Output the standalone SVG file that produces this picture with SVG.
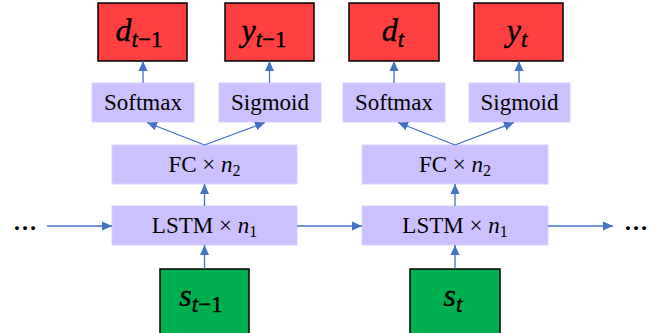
<svg xmlns="http://www.w3.org/2000/svg" width="663" height="333" viewBox="0 0 663 333">
<style>
.out{fill:#FF4040;stroke:#000;stroke-width:1.5}
.lay{fill:#CDC0FF;stroke:#D9D0FF;stroke-width:1}
.inp{fill:#00B050;stroke:#000;stroke-width:1.5}
.lbl{font-family:"Liberation Serif",serif;font-size:23px;fill:#000;text-anchor:middle}
.math{font-family:"Liberation Serif",serif;font-style:italic;fill:#000;stroke:#000;stroke-width:0.4;text-anchor:middle}
.up{font-style:normal}
.dots{font-family:"Liberation Serif",serif;font-size:24px;font-weight:bold;fill:#000;text-anchor:middle}
.conn line{stroke:#4472C4;stroke-width:1.3;marker-end:url(#ah)}
</style>
<defs>
<marker id="ah" markerUnits="userSpaceOnUse" markerWidth="10" markerHeight="10" refX="10" refY="5" orient="auto">
<path d="M0,0.5 L10,5 L0,9.5 z" fill="#4472C4"/>
</marker>
</defs>
<rect width="663" height="333" fill="#fff"/>

<g id="d_tm1"><rect class="out" x="98" y="3" width="89" height="58"/><text class="math" x="139" y="41" font-size="32">d<tspan font-size="23" dy="6">t</tspan><tspan class="up" font-size="23">−1</tspan></text></g>
<g id="y_tm1"><rect class="out" x="225" y="3" width="89" height="58"/><text class="math" x="264" y="41" font-size="32">y<tspan font-size="23" dy="6">t</tspan><tspan class="up" font-size="23">−1</tspan></text></g>
<g id="softmax1"><rect class="lay" x="92" y="83" width="102" height="39"/><text class="lbl" x="143" y="110">Softmax</text></g>
<g id="sigmoid1"><rect class="lay" x="219" y="83" width="102" height="39"/><text class="lbl" x="270" y="110">Sigmoid</text></g>
<g id="fc1"><rect class="lay" x="112" y="145" width="185" height="39"/><text class="lbl" x="204.5" y="172">FC × <tspan font-style="italic">n</tspan><tspan font-size="16" dy="4">2</tspan></text></g>
<g id="lstm1"><rect class="lay" x="112" y="206" width="185" height="39"/><text class="lbl" x="204.5" y="233">LSTM × <tspan font-style="italic">n</tspan><tspan font-size="16" dy="4">1</tspan></text></g>
<g id="s_tm1"><rect class="inp" x="160" y="269" width="89" height="70"/><text class="math" x="201" y="306" font-size="32">s<tspan font-size="23" dy="6">t</tspan><tspan class="up" font-size="23">−1</tspan></text></g>

<g id="d_t"><rect class="out" x="349" y="3" width="90" height="58"/><text class="math" x="393" y="41" font-size="32">d<tspan font-size="23" dy="6">t</tspan></text></g>
<g id="y_t"><rect class="out" x="474" y="3" width="89" height="58"/><text class="math" x="517" y="41" font-size="32">y<tspan font-size="23" dy="6">t</tspan></text></g>
<g id="softmax2"><rect class="lay" x="343" y="83" width="102" height="39"/><text class="lbl" x="394" y="110">Softmax</text></g>
<g id="sigmoid2"><rect class="lay" x="469" y="83" width="101" height="39"/><text class="lbl" x="519.5" y="110">Sigmoid</text></g>
<g id="fc2"><rect class="lay" x="362" y="145" width="186" height="39"/><text class="lbl" x="455" y="172">FC × <tspan font-style="italic">n</tspan><tspan font-size="16" dy="4">2</tspan></text></g>
<g id="lstm2"><rect class="lay" x="362" y="206" width="186" height="39"/><text class="lbl" x="455" y="233">LSTM × <tspan font-style="italic">n</tspan><tspan font-size="16" dy="4">1</tspan></text></g>
<g id="s_t"><rect class="inp" x="410" y="269" width="90" height="70"/><text class="math" x="453" y="306" font-size="32">s<tspan font-size="23" dy="6">t</tspan></text></g>

<g id="dots_left"><text class="dots" x="25" y="230">…</text></g>
<g id="dots_right"><text class="dots" x="636" y="230">…</text></g>

<g class="conn">
<line x1="143" y1="83" x2="143" y2="61"/>
<line x1="269.5" y1="83" x2="269.5" y2="61"/>
<line x1="204.5" y1="145" x2="147" y2="122.5"/>
<line x1="204.5" y1="145" x2="265" y2="122.5"/>
<line x1="204.5" y1="206" x2="204.5" y2="184"/>
<line x1="204.5" y1="269" x2="204.5" y2="245"/>
<line x1="47" y1="226" x2="112" y2="226"/>
<line x1="297" y1="226" x2="362" y2="226"/>
<line x1="394" y1="83" x2="394" y2="61"/>
<line x1="519" y1="83" x2="519" y2="61"/>
<line x1="455" y1="145" x2="398" y2="122.5"/>
<line x1="455" y1="145" x2="514" y2="122.5"/>
<line x1="455" y1="206" x2="455" y2="184"/>
<line x1="455" y1="269" x2="455" y2="245"/>
<line x1="548" y1="226" x2="613" y2="226"/>
</g>
</svg>
